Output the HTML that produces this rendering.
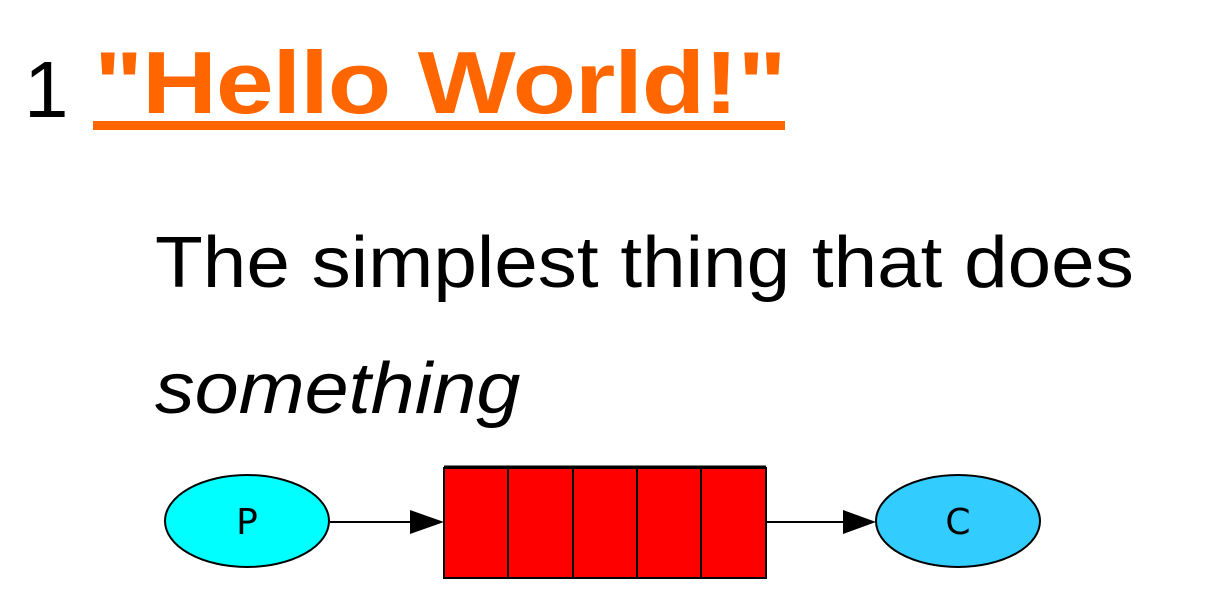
<!DOCTYPE html>
<html><head><style>
html,body{margin:0;padding:0;background:#fff;width:1226px;height:614px;overflow:hidden;position:relative;font-family:"Liberation Sans",sans-serif}
.t{position:absolute;white-space:nowrap;transform-origin:0 0}
</style></head><body>
<div class="t" style="left:24px;top:40px;font-size:80px;line-height:100px;color:#000">1</div>
<div class="t" style="left:94px;top:28px;font-size:88px;line-height:110px;font-weight:bold;color:#ff6600;letter-spacing:-1px;transform:scaleX(1.18)">"Hello World!"</div>
<div style="position:absolute;left:93px;top:121px;width:692px;height:9px;background:#ff6600"></div>
<div class="t" style="left:155px;top:220px;font-size:72px;line-height:86px;color:#000;transform:scaleX(1.087)">The simplest thing that does</div>
<div class="t" style="left:155px;top:346px;font-size:72px;line-height:86px;color:#000;font-style:italic;transform:scaleX(1.1)">something</div>
<svg style="position:absolute;left:0;top:0" width="1226" height="614">
<ellipse cx="247" cy="521" rx="82" ry="46" fill="#00ffff" stroke="#000" stroke-width="2"/>
<text x="247" y="534" font-family="DejaVu Sans" font-size="36" text-anchor="middle">P</text>
<line x1="330" y1="522" x2="412" y2="522" stroke="#000" stroke-width="2"/>
<polygon points="410,510 444,522 410,534" fill="#000"/>
<rect x="444" y="468" width="322" height="110" fill="#ff0000" stroke="#000" stroke-width="2"/>
<line x1="444" y1="467" x2="766" y2="467" stroke="#000" stroke-width="3"/>
<line x1="508" y1="468" x2="508" y2="578" stroke="#000" stroke-width="2"/>
<line x1="573" y1="468" x2="573" y2="578" stroke="#000" stroke-width="2"/>
<line x1="637" y1="468" x2="637" y2="578" stroke="#000" stroke-width="2"/>
<line x1="701" y1="468" x2="701" y2="578" stroke="#000" stroke-width="2"/>
<line x1="766" y1="522" x2="845" y2="522" stroke="#000" stroke-width="2"/>
<polygon points="843,510 876,522 843,534" fill="#000"/>
<ellipse cx="958" cy="521" rx="82" ry="46" fill="#33ccff" stroke="#000" stroke-width="2"/>
<text x="958" y="534" font-family="DejaVu Sans" font-size="36" text-anchor="middle">C</text>
</svg>
</body></html>
